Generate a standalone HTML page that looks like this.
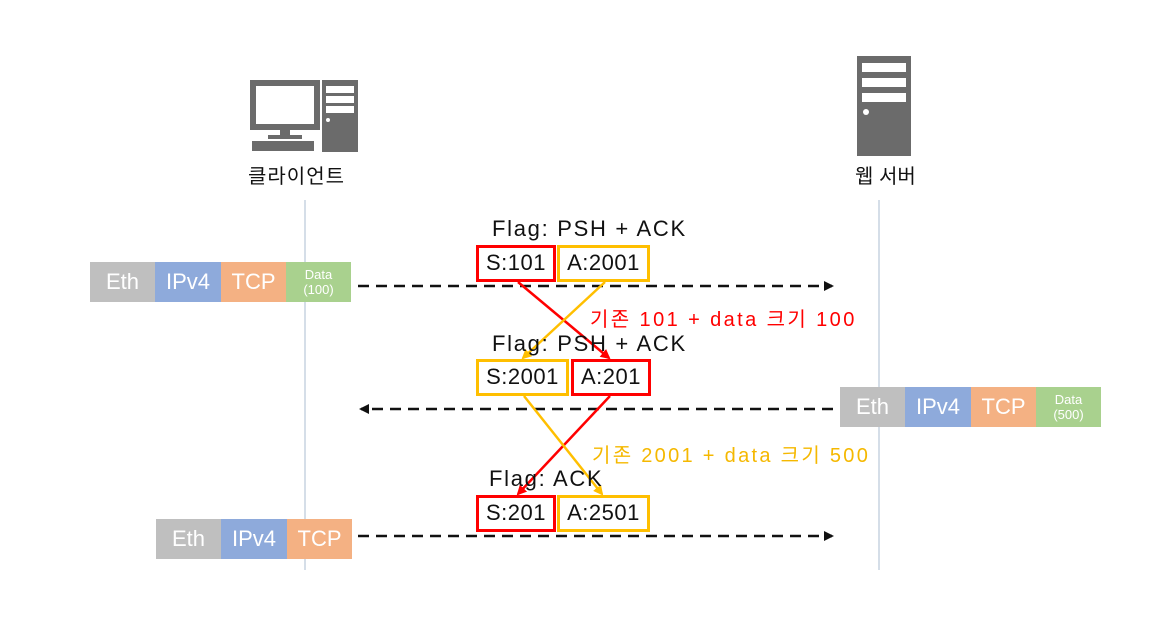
<!DOCTYPE html>
<html><head><meta charset="utf-8"><style>
body{margin:0;width:1160px;height:620px;background:#fff;overflow:hidden;position:relative;font-family:"Liberation Sans","Noto Sans CJK KR",sans-serif}
.a{position:absolute}
.c{position:absolute;color:#fff;text-align:center;font-size:22px;line-height:40px;height:40px}
.d{font-size:13px;line-height:15px;padding-top:5px;height:35px}
.t{position:absolute;font-size:22px;color:#111;white-space:nowrap}
.f{letter-spacing:1.7px}
.b{position:absolute;box-sizing:border-box;border:3px solid;font-size:22px;color:#111;line-height:30px;text-align:center;letter-spacing:0.5px}
.r{border-color:#f00}.y{border-color:#ffbf00}
</style></head><body>
<svg class="a" style="left:0;top:0" width="1160" height="620">
<defs>
<marker id="k" markerWidth="10" markerHeight="10" refX="8" refY="5" orient="auto" markerUnits="userSpaceOnUse"><path d="M0,0L10,5L0,10z" fill="#111"/></marker>
<marker id="rm" markerWidth="10" markerHeight="10" refX="8" refY="5" orient="auto" markerUnits="userSpaceOnUse"><path d="M0,0L10,5L0,10z" fill="#f00"/></marker>
<marker id="ym" markerWidth="10" markerHeight="10" refX="8" refY="5" orient="auto" markerUnits="userSpaceOnUse"><path d="M0,0L10,5L0,10z" fill="#ffbf00"/></marker>
</defs>
<line x1="305" y1="200" x2="305" y2="570" stroke="#d5dee8" stroke-width="2"/>
<line x1="879" y1="200" x2="879" y2="570" stroke="#d5dee8" stroke-width="2"/>
<g stroke="#111" stroke-width="2.5" stroke-dasharray="11,7">
<line x1="358" y1="286" x2="832" y2="286" marker-end="url(#k)"/>
<line x1="833" y1="409" x2="361" y2="409" marker-end="url(#k)"/>
<line x1="358" y1="536" x2="832" y2="536" marker-end="url(#k)"/>
</g>
<g stroke-width="2.5">
<line x1="518" y1="282" x2="609" y2="358" stroke="#f00" marker-end="url(#rm)"/>
<line x1="605" y1="282" x2="523" y2="358" stroke="#ffbf00" marker-end="url(#ym)"/>
<line x1="610" y1="396" x2="518" y2="494" stroke="#f00" marker-end="url(#rm)"/>
<line x1="524" y1="396" x2="602" y2="494" stroke="#ffbf00" marker-end="url(#ym)"/>
</g>
<rect x="250" y="80" width="70" height="50" fill="#6b6b6b"/>
<rect x="256" y="86" width="58" height="38" fill="#fff"/>
<rect x="280" y="130" width="10" height="6" fill="#6b6b6b"/>
<rect x="268" y="135" width="34" height="4" fill="#6b6b6b"/>
<rect x="252" y="141" width="62" height="10" fill="#6b6b6b"/>
<rect x="322" y="80" width="36" height="72" fill="#6b6b6b"/>
<rect x="326" y="86" width="28" height="7" fill="#fff"/>
<rect x="326" y="96" width="28" height="7" fill="#fff"/>
<rect x="326" y="106" width="28" height="7" fill="#fff"/>
<circle cx="328" cy="120" r="2" fill="#fff"/>
<rect x="857" y="56" width="54" height="100" fill="#6b6b6b"/>
<rect x="862" y="63" width="44" height="9" fill="#fff"/>
<rect x="862" y="78" width="44" height="9" fill="#fff"/>
<rect x="862" y="93" width="44" height="9" fill="#fff"/>
<circle cx="866" cy="112" r="3" fill="#fff"/>
</svg>
<div class="t" style="left:248px;top:160px;font-size:20px;letter-spacing:1px">클라이언트</div>
<div class="t" style="left:855px;top:160px;font-size:20px">웹 서버</div>

<div class="c" style="left:90px;top:262px;width:65px;background:#bfbfbf">Eth</div>
<div class="c" style="left:155px;top:262px;width:66px;background:#8eaadb">IPv4</div>
<div class="c" style="left:221px;top:262px;width:65px;background:#f4b183">TCP</div>
<div class="c d" style="left:286px;top:262px;width:65px;background:#a9d18e">Data<br>(100)</div>

<div class="c" style="left:840px;top:387px;width:65px;background:#bfbfbf">Eth</div>
<div class="c" style="left:905px;top:387px;width:66px;background:#8eaadb">IPv4</div>
<div class="c" style="left:971px;top:387px;width:65px;background:#f4b183">TCP</div>
<div class="c d" style="left:1036px;top:387px;width:65px;background:#a9d18e">Data<br>(500)</div>

<div class="c" style="left:156px;top:519px;width:65px;background:#bfbfbf">Eth</div>
<div class="c" style="left:221px;top:519px;width:66px;background:#8eaadb">IPv4</div>
<div class="c" style="left:287px;top:519px;width:65px;background:#f4b183">TCP</div>

<div class="t f" style="left:492px;top:216px">Flag: PSH + ACK</div>
<div class="b r" style="left:476px;top:245px;width:80px;height:37px">S:101</div>
<div class="b y" style="left:557px;top:245px;width:93px;height:37px">A:2001</div>
<div class="t" style="left:590px;top:303px;font-size:20px;color:#f00;letter-spacing:2.4px">기존 101 + data 크기 100</div>

<div class="t f" style="left:492px;top:331px">Flag: PSH + ACK</div>
<div class="b y" style="left:476px;top:359px;width:93px;height:37px">S:2001</div>
<div class="b r" style="left:571px;top:359px;width:80px;height:37px">A:201</div>
<div class="t" style="left:592px;top:439px;font-size:20px;color:#f5b800;letter-spacing:2.3px">기존 2001 + data 크기 500</div>

<div class="t f" style="left:489px;top:466px">Flag: ACK</div>
<div class="b r" style="left:476px;top:495px;width:80px;height:37px">S:201</div>
<div class="b y" style="left:557px;top:495px;width:93px;height:37px">A:2501</div>
</body></html>
